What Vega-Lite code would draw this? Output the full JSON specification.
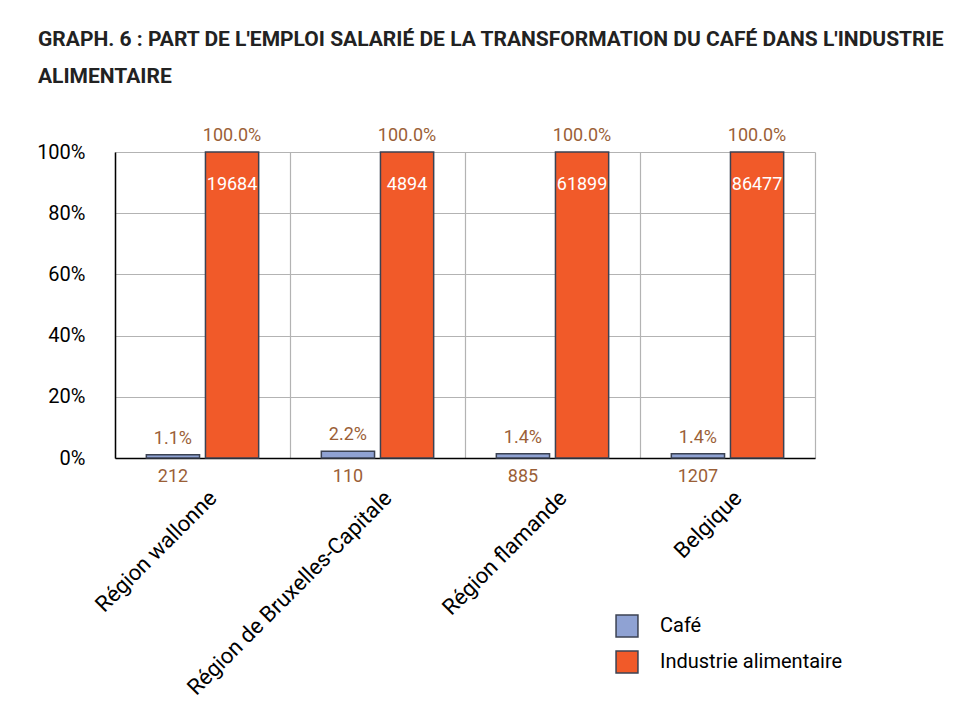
{
  "$schema": "https://vega.github.io/schema/vega-lite/v6.json",
  "width": 700,
  "height": 306,
  "autosize": {"type": "none"},
  "padding": {"left": 115, "top": 152, "right": 165, "bottom": 251},
  "background": "white",
  "config": {
    "font": "Roboto",
    "view": {"stroke": null}
  },
  "title": {
    "text": ["GRAPH. 6 : PART DE L'EMPLOI SALARIÉ DE LA TRANSFORMATION DU CAFÉ DANS L'INDUSTRIE", "ALIMENTAIRE"],
    "anchor": "start",
    "frame": "group",
    "dx": -77,
    "offset": 40,
    "fontSize": 21,
    "fontWeight": "bold",
    "color": "#222222",
    "lineHeight": 37,
    "font": "Roboto"
  },
  "data": {
    "values": [
      {"region": "Région wallonne", "serie": "Café", "pct": 0.011, "label": "1.1%", "count": "212"},
      {"region": "Région wallonne", "serie": "Industrie alimentaire", "pct": 1.0, "label": "100.0%", "count": "19684"},
      {"region": "Région de Bruxelles-Capitale", "serie": "Café", "pct": 0.022, "label": "2.2%", "count": "110"},
      {"region": "Région de Bruxelles-Capitale", "serie": "Industrie alimentaire", "pct": 1.0, "label": "100.0%", "count": "4894"},
      {"region": "Région flamande", "serie": "Café", "pct": 0.014, "label": "1.4%", "count": "885"},
      {"region": "Région flamande", "serie": "Industrie alimentaire", "pct": 1.0, "label": "100.0%", "count": "61899"},
      {"region": "Belgique", "serie": "Café", "pct": 0.014, "label": "1.4%", "count": "1207"},
      {"region": "Belgique", "serie": "Industrie alimentaire", "pct": 1.0, "label": "100.0%", "count": "86477"}
    ]
  },
  "encoding": {
    "x": {
      "field": "region",
      "type": "nominal",
      "sort": ["Région wallonne", "Région de Bruxelles-Capitale", "Région flamande", "Belgique"],
      "scale": {"paddingInner": 0, "paddingOuter": 0},
      "axis": {
        "title": null,
        "labelAngle": -45,
        "labelAlign": "right",
        "labelBaseline": "top",
        "labelFontSize": 22,
        "labelColor": "#000000",
        "labelLimit": 400,
        "labelPadding": 29,
        "labelOffset": 3,
        "ticks": false,
        "domainColor": "#000000",
        "domainWidth": 1.5,
        "grid": true,
        "tickBand": "extent",
        "gridColor": "#b3b3b3",
        "gridWidth": 1.2
      }
    },
    "xOffset": {
      "field": "serie",
      "type": "nominal",
      "sort": ["Café", "Industrie alimentaire"],
      "scale": {"paddingInner": 0.1, "paddingOuter": 0.53}
    }
  },
  "layer": [
    {
      "mark": {"type": "bar", "stroke": "#3b4252", "strokeWidth": 1.5},
      "encoding": {
        "y": {
          "field": "pct",
          "type": "quantitative",
          "scale": {"domain": [0, 1]},
          "axis": {
            "title": null,
            "format": ".0%",
            "values": [0, 0.2, 0.4, 0.6, 0.8, 1],
            "labelFontSize": 20,
            "labelColor": "#000000",
            "labelPadding": 30,
            "ticks": false,
            "domainColor": "#000000",
            "domainWidth": 1.5,
            "gridColor": "#b3b3b3",
            "gridWidth": 1.2
          }
        },
        "color": {
          "field": "serie",
          "type": "nominal",
          "sort": ["Café", "Industrie alimentaire"],
          "scale": {"domain": ["Café", "Industrie alimentaire"], "range": ["#8fa2d3", "#f15a29"]},
          "legend": {
            "title": null,
            "orient": "none",
            "legendX": 500,
            "legendY": 462,
            "symbolType": "square",
            "symbolSize": 480,
            "symbolStrokeColor": "#3b4252",
            "symbolStrokeWidth": 1.5,
            "labelFontSize": 20,
            "labelColor": "#000000",
            "labelLimit": 400,
            "labelOffset": 21,
            "rowPadding": 8
          }
        }
      }
    },
    {
      "mark": {"type": "text", "baseline": "alphabetic", "dy": -11, "fontSize": 18, "color": "#9b5f37"},
      "encoding": {
        "y": {"field": "pct", "type": "quantitative"},
        "text": {"field": "label"}
      }
    },
    {
      "transform": [{"filter": "datum.serie === 'Café'"}],
      "mark": {"type": "text", "baseline": "top", "dy": 10, "fontSize": 18, "color": "#9b5f37"},
      "encoding": {
        "y": {"datum": 0},
        "text": {"field": "count"}
      }
    },
    {
      "transform": [{"filter": "datum.serie === 'Industrie alimentaire'"}],
      "mark": {"type": "text", "baseline": "top", "dy": 24, "fontSize": 18, "color": "#ffffff"},
      "encoding": {
        "y": {"field": "pct", "type": "quantitative"},
        "text": {"field": "count"}
      }
    }
  ]
}
